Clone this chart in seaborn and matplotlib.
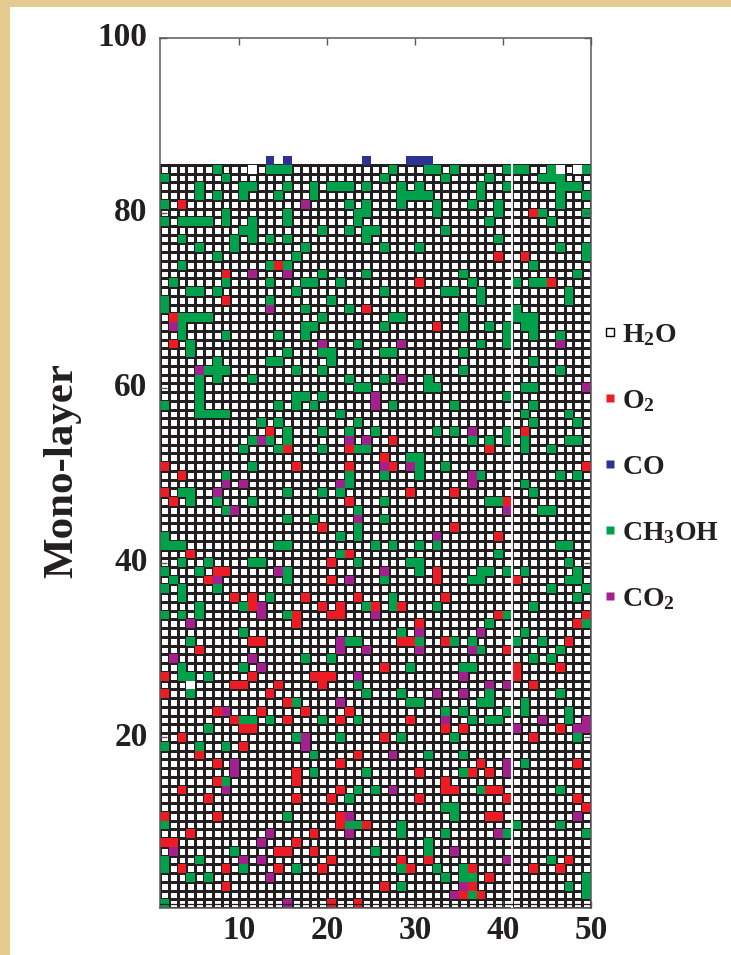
import matplotlib
matplotlib.use('Agg')
import matplotlib.pyplot as plt
import seaborn as sns
import numpy as np
from matplotlib.colors import ListedColormap
from matplotlib.lines import Line2D
from matplotlib.patches import Rectangle

# lattice cells as (mono-layer, [sites])
co = [(86, [13, 15, 24, 29, 30, 31])]

ch3oh = [
    (85, [7, 13, 14, 15, 27, 31, 32, 34, 40, 41, 42, 45, 49]), (84, [1, 8, 26, 33, 38, 44, 45, 46]),
    (83, [5, 10, 11, 15, 18, 20, 21, 22, 24, 28, 30, 37, 40, 46, 47, 48]), (82, [5, 7, 10, 14, 18, 28, 29, 30, 31, 37, 46, 49]),
    (81, [1, 22, 24, 28, 32, 36, 39, 46]), (80, [8, 15, 23, 24, 32, 39, 44, 49]),
    (79, [1, 3, 4, 5, 6, 8, 11, 15, 23, 38, 45]), (78, [10, 11, 19, 22, 24, 25, 33]),
    (77, [3, 9, 11, 13, 15, 24, 39]), (76, [5, 9, 17, 26, 30, 46, 49]),
    (75, [7, 16, 49]), (74, [3, 13, 15, 43]), (73, [19, 24, 35, 48]),
    (72, [2, 8, 13, 17, 18, 21, 36, 41, 43, 44]), (71, [4, 5, 7, 16, 26, 33, 34, 37, 47]),
    (70, [1, 13, 20, 37, 47]), (69, [1, 17, 22, 41]), (68, [3, 4, 5, 6, 19, 27, 28, 35, 41, 42, 43]),
    (67, [3, 17, 18, 26, 35, 38, 40, 42, 43]), (66, [3, 8, 14, 17, 40, 43, 46]), (65, [4, 23, 37, 40]),
    (64, [4, 15, 19, 20, 26, 27, 35]), (63, [7, 13, 14, 20, 43]), (62, [6, 7, 8, 16, 19, 35, 46]),
    (61, [5, 7, 11, 22, 26, 31]), (60, [5, 23, 24, 31, 32, 42, 43]), (59, [5, 16, 17, 19, 40]),
    (58, [1, 5, 14, 16, 18, 27, 34, 43]), (57, [5, 6, 7, 8, 21, 42, 47]), (56, [12, 14, 23, 43, 48]),
    (55, [15, 19, 22, 25, 32, 34, 40]), (54, [11, 13, 15, 36, 38, 40, 42, 47, 48]),
    (53, [10, 14, 19, 23, 24, 42, 45]), (52, [29, 30]), (51, [11, 30, 33]),
    (50, [8, 22, 26, 30, 37, 46, 48]), (49, [22, 42]), (48, [3, 4, 15, 19, 21, 43]),
    (47, [4, 7, 11, 26, 38, 39]), (46, [8, 23, 44, 45]), (45, [15, 18, 26]), (44, [23]), (43, [1, 21, 23]),
    (42, [1, 2, 3, 14, 15, 25, 27, 30, 32, 46, 47]), (41, [21, 39]), (40, [3, 6, 11, 12, 23, 29, 30, 47]),
    (39, [1, 5, 15, 30, 37, 38, 40, 42, 48]), (38, [2, 15, 26, 36, 37, 47, 48]), (37, [1, 3, 7, 45, 49]),
    (36, [3, 13, 27, 48]), (35, [5, 10, 24, 27, 32, 43]), (34, [1, 3, 5, 15, 40]), (33, [38, 49]),
    (32, [10, 28, 42]), (31, [4, 22, 23, 30, 34, 36, 41, 44]), (30, [37, 46]), (29, [17, 20, 43, 45]),
    (28, [3, 10, 29, 35, 36]), (27, [3, 4, 6]), (26, [23]), (25, [4, 24, 28, 38, 46]),
    (24, [16, 29, 30, 37, 38, 42]), (23, [33, 35, 40, 42, 47]), (22, [10, 11, 13, 19, 23, 36, 38, 39, 47]),
    (21, [6]), (20, [16, 21, 28, 34, 48]), (19, [1, 5, 8]), (18, [18, 31, 35]), (17, [42]),
    (16, [18, 24, 35]), (15, [8]), (14, [23, 25, 37, 46]), (13, [22]), (12, [33, 34]), (11, [15, 34]),
    (10, [1, 22, 23, 28, 41, 46]), (9, [28, 33, 40, 49]), (8, [31]), (7, [9, 25, 31]), (6, [1, 5, 45]),
    (5, [1, 10, 16, 28, 32, 35]), (4, [4, 6, 33, 35, 36, 49]), (3, [28, 47, 49]), (2, [36, 49]), (1, [1]),
]

o2 = [
    (81, [3]), (80, [43]), (75, [39, 42]), (74, [14]), (73, [8]), (72, [30, 45]), (70, [8]), (69, [24]),
    (68, [2]), (67, [32]), (65, [2]), (55, [13, 42]), (54, [27]), (53, [15, 22, 38]), (52, [26]),
    (51, [1, 16, 22, 27, 49]), (50, [3]), (48, [1, 29, 34]), (47, [2, 22, 40]), (44, [19, 34]), (43, [39]),
    (41, [4, 22]), (40, [20]), (39, [7, 8, 32]), (38, [6, 20, 32, 41]), (36, [9, 11, 17, 23, 33]),
    (35, [11, 19, 21, 25, 28]), (34, [16, 20, 21, 39, 49]), (33, [16, 30, 48]), (31, [11, 12, 28, 29, 33, 47]),
    (30, [5, 40]), (28, [26, 41, 46]), (27, [1, 11, 18, 19, 20, 41]), (26, [9, 10, 14, 19, 43]), (25, [1, 13]),
    (24, [15]), (23, [7, 12, 17, 22]), (22, [9, 15, 21, 29]), (21, [10, 11, 33, 35, 46]), (20, [3, 26, 43]),
    (19, [10]), (18, [5, 23]), (17, [7, 21, 37, 48]), (16, [16, 30, 36, 38]), (15, [7, 16, 33]),
    (14, [3, 21, 33, 34, 38, 39]), (13, [6, 16, 20, 30, 40, 48]), (12, [49]), (11, [1, 7, 21, 38, 39]),
    (10, [21, 24]), (9, [4, 18]), (8, [1, 2, 16]), (7, [14, 15, 18]), (6, [20, 28, 31, 47]),
    (5, [3, 8, 14, 19, 29, 36, 43, 46]), (4, [38]), (3, [8, 26, 36]), (2, [35, 37]), (1, [20, 23]),
]

co2 = [
    (81, [17]), (73, [11, 15]), (69, [13]), (67, [2]), (65, [19, 28, 46]), (62, [5]), (61, [28]), (60, [49]),
    (59, [25]), (58, [25]), (55, [36]), (54, [12, 22, 24]), (51, [26, 29]), (50, [36]), (49, [8, 10, 21, 36]),
    (48, [7]), (46, [9, 40]), (45, [23]), (43, [32]), (39, [14, 26]), (38, [7, 22]), (35, [12]), (34, [12, 25]),
    (33, [4]), (32, [30, 37]), (31, [21]), (30, [21, 24, 30, 36]), (29, [2, 11]), (28, [12]), (27, [23, 35]),
    (26, [38, 40]), (25, [32, 35]), (24, [21]), (23, [8]), (22, [33, 44, 49]), (21, [41, 48, 49]), (20, [17]),
    (19, [17]), (18, [27]), (17, [9, 40]), (16, [9, 40]), (14, [8, 27]), (11, [22, 48]), (9, [13, 22, 39]),
    (8, [12]), (7, [2, 34]), (6, [10, 12, 40]), (4, [13]), (3, [35]), (2, [34]), (1, [15]),
]

# sites left empty in the lattice
empty = [(85, [11, 46, 48]), (26, [4])]

x_ticks = [10, 20, 30, 40, 50]
y_ticks = [20, 40, 60, 80, 100]
n_sites = 49
n_layers = 86
h2o_top = 85

colors = ['#ED1C24', '#2E3192', '#00A14B', '#A3218E', '#FFFFFF']
dark = '#231F20'
frame = '#58595B'

plt.rcParams['font.family'] = ['Liberation Serif', 'DejaVu Serif']
plt.rcParams['font.weight'] = 'bold'
plt.rcParams['mathtext.fontset'] = 'custom'
plt.rcParams['mathtext.bf'] = 'Liberation Serif:bold'
plt.rcParams['mathtext.rm'] = 'Liberation Serif:bold'


def fill(grid, cells, code):
    for layer, sites in cells:
        for site in sites:
            grid[layer - 1, site - 1] = code


species = np.zeros((n_layers, n_sites))
fill(species, o2, 1)
fill(species, co, 2)
fill(species, ch3oh, 3)
fill(species, co2, 4)
fill(species, empty, 5)

fig = plt.figure(figsize=(7.31, 9.55), dpi=100, facecolor='#E5CC8E')
fig.add_artist(Rectangle((10 / 731, 0), 721 / 731, 948 / 955, transform=fig.transFigure,
                         facecolor='white', edgecolor='none', zorder=-1))
ax = fig.add_axes([160 / 731, (955 - 908) / 955, 431 / 731, 870 / 955])

# H2O lattice first, then the other species over it
sns.heatmap(np.ones((h2o_top, n_sites)), cmap=ListedColormap(['white']), cbar=False,
            linewidths=1.9, linecolor=dark, ax=ax)
sns.heatmap(species, mask=species == 0, cmap=ListedColormap(colors), vmin=0.5, vmax=5.5,
            cbar=False, ax=ax)

ax.plot([40, 40], [0, h2o_top], color='#EDEDED', lw=1.5, zorder=3)
ax.axhline(0.5, color=dark, lw=0.9, zorder=3)

ax.set_xlim(0, n_sites)
ax.set_ylim(0, 99.5)
ax.set_xticks([t - 1 for t in x_ticks], x_ticks, rotation=0)
ax.set_yticks([t - 0.5 for t in y_ticks], y_ticks, rotation=0)
ax.tick_params(axis='both', direction='in', length=5, width=1, color=frame, labelsize=24, labelcolor=dark,
               right=True, left=True, bottom=True, top=True)
ax.tick_params(axis='x', pad=5)
ax.tick_params(axis='y', pad=9)
for spine in ax.spines.values():
    spine.set_visible(True)
    spine.set_color(frame)
    spine.set_linewidth(1.1)

fig.text(62 / 731, 1 - 471 / 955, 'Mono-layer', rotation=90, ha='center', va='center', fontsize=31,
         fontweight='bold', color=dark)

handles = [
    Line2D([], [], ls='', marker='s', ms=5.2, mfc='white', mec='black', mew=1),
    Line2D([], [], ls='', marker='s', ms=6, mfc=colors[0], mec='none'),
    Line2D([], [], ls='', marker='s', ms=6, mfc=colors[1], mec='none'),
    Line2D([], [], ls='', marker='s', ms=6, mfc=colors[2], mec='none'),
    Line2D([], [], ls='', marker='s', ms=6, mfc=colors[3], mec='none'),
]
labels = [r'$\mathbf{H_2O}$', r'$\mathbf{O_2}$', r'$\mathbf{CO}$', r'$\mathbf{CH_3OH}$', r'$\mathbf{CO_2}$']
fig.legend(handles, labels, loc='upper left', bbox_to_anchor=(603 / 731, 1 - 322 / 955), frameon=False,
           fontsize=20, labelspacing=1.45, handlelength=0.5, handletextpad=0.2, borderpad=0, borderaxespad=0,
           labelcolor=dark)

fig.savefig('out.png', dpi=100)
